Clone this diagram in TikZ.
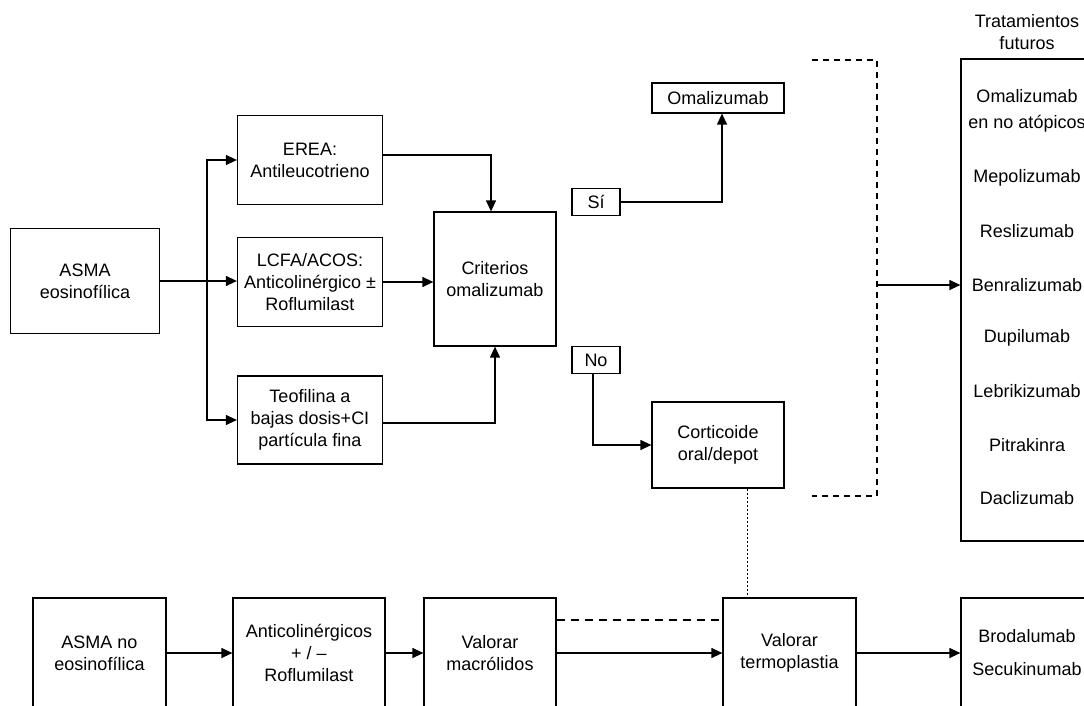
\documentclass[tikz,border=0pt]{standalone}
\usepackage{fontspec}
\setmainfont{Liberation Sans}
\usetikzlibrary{arrows.meta}

\begin{document}
\begin{tikzpicture}[x=1pt,y=-1pt,>={Triangle[length=11pt,width=10pt]},line width=1.25pt]
    \tikzstyle{box}=[draw,rectangle,inner sep=0pt,align=center,font=\fontsize{18}{22}\selectfont]
    \tikzstyle{answer}=[box,minimum width=48pt,minimum height=27pt]
    \tikzstyle{drug}=[align=center,font=\fontsize{18}{22}\selectfont]

    \useasboundingbox (0,0) rectangle (1084,706);
    \clip (0,0) rectangle (1084,706);

    % asma eosinofilica
    \node[box,minimum width=149pt,minimum height=105pt] at (85,281) (asma) {ASMA\\eosinofílica};
    \node[box,minimum width=145pt,minimum height=89pt] at (310,160) (erea) {EREA:\\Antileucotrieno};
    \node[box,minimum width=145pt,minimum height=89pt] at (310,282) (lcfa) {LCFA/ACOS:\\Anticolinérgico ±\\Roflumilast};
    \node[box,minimum width=145pt,minimum height=88pt] at (310,420) (teo) {Teofilina a\\bajas dosis+CI\\partícula fina};
    \node[box,minimum width=122pt,minimum height=134pt] at (495,279) (crit) {Criterios\\omalizumab};
    \node[box,minimum width=132pt,minimum height=30pt] at (718,98) (omal) {Omalizumab};
    \node[answer] at (596,202) (si) {Sí};
    \node[answer] at (596,360) (no) {No};
    \node[box,minimum width=132pt,minimum height=86pt] at (718,445) (cort) {Corticoide\\oral/depot};

    % tratamientos futuros
    \node[drug] at (1027,32) (titulo) {Tratamientos\\futuros};
    \node[box,minimum width=132pt,minimum height=482pt] at (1027,300) (fut) {};
    \node[drug] at (1027,111) (omalno) {Omalizumab\\[4pt]en no atópicos};
    \node[drug] at (1027,178) (mepo) {Mepolizumab};
    \node[drug] at (1027,231) (resli) {Reslizumab};
    \node[drug] at (1027,285) (benra) {Benralizumab};
    \node[drug] at (1027,338) (dupi) {Dupilumab};
    \node[drug] at (1027,391) (lebri) {Lebrikizumab};
    \node[drug] at (1027,445) (pitra) {Pitrakinra};
    \node[drug] at (1027,498) (dacli) {Daclizumab};

    % asma no eosinofilica
    \node[box,minimum width=133pt,minimum height=110pt] at (99.5,653) (asmano) {ASMA no\\eosinofílica};
    \node[box,minimum width=152pt,minimum height=110pt] at (309,653) (anticol) {Anticolinérgicos\\+ / –\\Roflumilast};
    \node[box,minimum width=132pt,minimum height=110pt] at (490,653) (macro) {Valorar\\macrólidos};
    \node[box,minimum width=133pt,minimum height=110pt] at (789.5,653) (termo) {Valorar\\termoplastia};
    \node[box,minimum width=132pt,minimum height=110pt] at (1027,653) (brod) {Brodalumab\\[11pt]Secukinumab};

    \coordinate (br) at (207,281);
    \draw[->] (asma.east) -- (asma.east -| lcfa.west);
    \draw[->] (br) |- (erea.west);
    \draw[->] (br) |- (teo.west);
    \draw[->] ([yshift=5pt]erea.east) -| ([xshift=-4pt]crit.north);
    \draw[->] (lcfa.east) -- (lcfa.east -| crit.west);
    \draw[->] ([yshift=-3pt]teo.east) -| (crit.south);
    \draw[->] (si.east) -| ([xshift=4pt]omal.south);
    \draw[->] ([xshift=-3pt]no.south) |- (cort.west);

    \coordinate (bt) at (812,60);
    \coordinate (bm) at (877,285);
    \coordinate (bb) at (812,496);
    \draw[dash pattern=on 6pt off 5pt] (bt) -| (bm) |- (bb);
    \draw[->] (bm) -- (bm -| fut.west);

    \draw[->] (asmano.east) -- (anticol.west);
    \draw[->] (anticol.east) -- (macro.west);
    \draw[->] (macro.east) -- (termo.west);
    \draw[->] (termo.east) -- (brod.west);
    \draw[dash pattern=on 8pt off 6pt] ([yshift=33pt]macro.east) -- ([yshift=33pt]macro.east -| termo.west);
    \draw[line width=1pt,dash pattern=on 2pt off 2pt] ([xshift=29pt]cort.south) -- ([xshift=29pt]cort.south |- termo.north);
\end{tikzpicture}
\end{document}
